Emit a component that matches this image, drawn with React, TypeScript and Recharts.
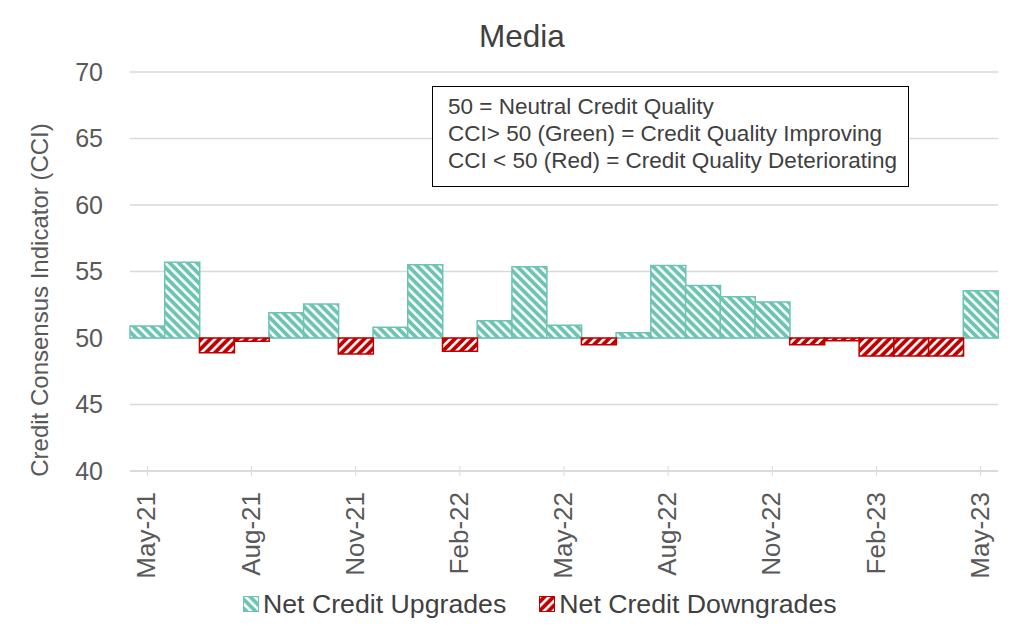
import React from "react";
import {
  BarChart,
  Bar,
  XAxis,
  YAxis,
  CartesianGrid,
  Legend,
} from "recharts";

const months = [
  "May-21", "Jun-21", "Jul-21", "Aug-21", "Sep-21", "Oct-21", "Nov-21", "Dec-21",
  "Jan-22", "Feb-22", "Mar-22", "Apr-22", "May-22", "Jun-22", "Jul-22", "Aug-22",
  "Sep-22", "Oct-22", "Nov-22", "Dec-22", "Jan-23", "Feb-23", "Mar-23", "Apr-23",
  "May-23",
];

// CCI value per month (50 = neutral)
const cci = [
  50.9, 55.7, 48.9, 49.75, 51.9, 52.55, 48.8, 50.8,
  55.5, 49.0, 51.3, 55.35, 50.95, 49.5, 50.4, 55.45,
  53.95, 53.1, 52.7, 49.5, 49.8, 48.65, 48.65, 48.65,
  53.55,
];

const yTicks = [40, 45, 50, 55, 60, 65, 70];

const GREEN = "#6cc4b2";
const RED = "#c00000";
const FONT = "'Liberation Sans', Arial, sans-serif";

const data = months.map((m, i) => ({ month: m, cci: cci[i] }));

const MonthTick = (props: any) => {
  const { x, y, payload } = props;
  return (
    <g>
      <line x1={x} x2={x} y1={y - 5} y2={y + 5} stroke="#d9d9d9" strokeWidth={1} />
      <text
        transform={`translate(${x - 1},${y + 21}) rotate(-90)`}
        textAnchor="end"
        dy="0.35em"
        fontSize={26}
        fill="#595959"
        fontFamily={FONT}
      >
        {payload.value}
      </text>
    </g>
  );
};

const YLabel = () => (
  <text
    x={48}
    y={300}
    transform="rotate(-90, 48, 300)"
    textAnchor="middle"
    fontSize={24}
    fill="#595959"
    fontFamily={FONT}
  >
    Credit Consensus Indicator (CCI)
  </text>
);

const LegendContent = () => (
  <div
    style={{
      display: "flex",
      alignItems: "center",
      paddingLeft: 243,
      fontFamily: FONT,
      fontSize: 26.7,
      color: "#404040",
      lineHeight: "28px",
    }}
  >
    <svg width={16} height={16} style={{ marginRight: 4 }}>
      <rect x={0.5} y={0.5} width={15} height={15} fill="url(#upHatch)" stroke={GREEN} />
    </svg>
    <span style={{ marginRight: 33 }}>Net Credit Upgrades</span>
    <svg width={16} height={16} style={{ marginRight: 4 }}>
      <rect x={0.5} y={0.5} width={15} height={15} fill="url(#downHatch)" stroke={RED} />
    </svg>
    <span>Net Credit Downgrades</span>
  </div>
);

export default function App() {
  return (
    <div style={{ position: "absolute", left: 0, top: 0, width: 1024, height: 640, background: "#fff" }}>
      <div
        style={{
          position: "absolute",
          left: 422,
          top: 21,
          width: 200,
          textAlign: "center",
          fontFamily: FONT,
          fontSize: 31.5,
          lineHeight: "31px",
          color: "#404040",
        }}
      >
        Media
      </div>
      <BarChart
        width={1024}
        height={640}
        data={data}
        margin={{ top: 72, right: 26, left: 0, bottom: 10 }}
        barCategoryGap={0}
        barGap={0}
      >
        <defs>
          <pattern id="upHatch" patternUnits="userSpaceOnUse" width={6.4} height={6.4} patternTransform="rotate(-45)">
            <rect x={0} y={0} width={6.4} height={6.4} fill={GREEN} />
            <rect x={0} y={0} width={2.6} height={6.4} fill="#ffffff" />
          </pattern>
          <pattern id="downHatch" patternUnits="userSpaceOnUse" width={6.4} height={6.4} patternTransform="rotate(45)">
            <rect x={0} y={0} width={6.4} height={6.4} fill={RED} />
            <rect x={0} y={0} width={2.6} height={6.4} fill="#ffffff" />
          </pattern>
        </defs>
        <CartesianGrid vertical={false} stroke="#d9d9d9" strokeWidth={1.3} />
        <XAxis
          xAxisId="a"
          dataKey="month"
          interval={2}
          height={119}
          tickSize={0}
          tickMargin={0}
          tickLine={false}
          axisLine={{ stroke: "#d9d9d9", strokeWidth: 1.3 }}
          tick={<MonthTick />}
        />
        <XAxis xAxisId="b" dataKey="month" hide />
        <YAxis
          width={130}
          domain={[40, 70]}
          ticks={yTicks}
          axisLine={false}
          tickLine={false}
          tickSize={0}
          tickMargin={27}
          tick={{ fontSize: 25, fill: "#595959", fontFamily: FONT }}
          label={<YLabel />}
        />
        <Legend verticalAlign="bottom" height={40} wrapperStyle={{ left: 0, width: 1024 }} content={<LegendContent />} />
        <Bar
          xAxisId="a"
          name="Net Credit Upgrades"
          dataKey={(d: any) => (d.cci > 50 ? [50, d.cci] : null)}
          fill="url(#upHatch)"
          stroke={GREEN}
          strokeWidth={1.5}
          isAnimationActive={false}
        />
        <Bar
          xAxisId="b"
          name="Net Credit Downgrades"
          dataKey={(d: any) => (d.cci < 50 ? [d.cci, 50] : null)}
          fill="url(#downHatch)"
          stroke={RED}
          strokeWidth={1.5}
          isAnimationActive={false}
        />
      </BarChart>
      <div
        style={{
          position: "absolute",
          left: 432,
          top: 86,
          width: 477,
          height: 101,
          boxSizing: "border-box",
          border: "1.5px solid #000",
          padding: "6px 0 0 15px",
          fontFamily: FONT,
          fontSize: 22.5,
          lineHeight: "27px",
          color: "#404040",
          background: "#fff",
        }}
      >
        <div>50 = Neutral Credit Quality</div>
        <div>CCI&gt; 50 (Green) = Credit Quality Improving</div>
        <div>CCI &lt; 50 (Red) = Credit Quality Deteriorating</div>
      </div>
    </div>
  );
}
